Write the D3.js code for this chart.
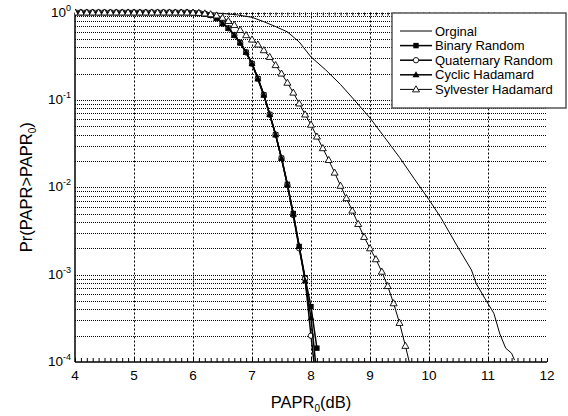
<!DOCTYPE html>
<html>
<head>
<meta charset="utf-8">
<script src="https://cdn.jsdelivr.net/npm/d3@7"></script>
<style>
	body { margin: 0; background: #fff; }
	svg { display: block; font-family: "Liberation Sans", Arial, sans-serif; }
</style>
</head>
<body>
<svg id="chart" width="568" height="416"></svg>
<script>
// PAPR0 grid (dB) shared by the coded curves
var paprSteps = [4.0, 4.1, 4.2, 4.3, 4.4, 4.5, 4.6, 4.7, 4.8, 4.9,
	5.0, 5.1, 5.2, 5.3, 5.4, 5.5, 5.6, 5.7, 5.8, 5.9,
	6.0, 6.1, 6.2, 6.3, 6.4, 6.5, 6.6, 6.7, 6.8, 6.9,
	7.0, 7.1, 7.2, 7.3, 7.4, 7.5, 7.6, 7.7, 7.8, 7.9,
	8.0, 8.1, 8.2, 8.3, 8.4, 8.5, 8.6, 8.7, 8.8, 8.9,
	9.0, 9.1, 9.2, 9.3, 9.4, 9.5, 9.6, 9.7];

var binaryRandom = [1, 1, 1, 1, 1, 1, 1, 1, 1, 1,
	1, 1, 1, 1, 1, 1, 1, 1, 1, 1,
	0.995, 0.985, 0.965, 0.93, 0.86, 0.75, 0.66, 0.55, 0.45, 0.35,
	0.26, 0.175, 0.114, 0.068, 0.040, 0.0215, 0.0108, 0.005, 0.0021, 0.00092,
	0.00043, 0.000144];

var quaternaryRandom = [1, 1, 1, 1, 1, 1, 1, 1, 1, 1,
	1, 1, 1, 1, 1, 1, 1, 1, 1, 1,
	0.995, 0.985, 0.965, 0.93, 0.86, 0.75, 0.66, 0.55, 0.45, 0.35,
	0.26, 0.175, 0.114, 0.068, 0.040, 0.0215, 0.0106, 0.0048, 0.002, 0.0009,
	0.0002, 0.00005];

var cyclicHadamard = [1, 1, 1, 1, 1, 1, 1, 1, 1, 1,
	1, 1, 1, 1, 1, 1, 1, 1, 1, 1,
	0.995, 0.985, 0.965, 0.93, 0.86, 0.75, 0.66, 0.55, 0.45, 0.35,
	0.26, 0.175, 0.114, 0.068, 0.040, 0.0215, 0.0107, 0.0049, 0.0021, 0.00085,
	0.00032, 0.00007];

var sylvesterHadamard = [1, 1, 1, 1, 1, 1, 1, 1, 1, 1,
	1, 1, 1, 1, 1, 1, 1, 1, 1, 1,
	0.995, 0.99, 0.975, 0.955, 0.925, 0.87, 0.80, 0.72, 0.63, 0.55,
	0.49, 0.43, 0.37, 0.31, 0.25, 0.20, 0.157, 0.121, 0.091, 0.068,
	0.052, 0.038, 0.028, 0.0205, 0.0147, 0.0104, 0.0075, 0.0054, 0.0038, 0.0027,
	0.002, 0.0015, 0.00108, 0.00074, 0.00047, 0.00028, 0.000153, 0.00008];

// original (no precoding) curve, its own grid
var origPapr = [4, 5, 5.5, 6, 6.25, 6.5, 6.75, 7, 7.2, 7.4, 7.6, 7.8, 8, 8.25, 8.5, 8.75,
	9, 9.25, 9.5, 9.75, 10, 10.2, 10.35, 10.5, 10.72, 10.8, 10.95, 11.1, 11.2, 11.3, 11.4, 11.45];
var origCcdf = [1, 1, 1, 0.999, 0.995, 0.975, 0.94, 0.88, 0.785, 0.69, 0.6, 0.46, 0.31, 0.22, 0.15, 0.097,
	0.062, 0.037, 0.022, 0.0125, 0.0072, 0.0045, 0.003, 0.002, 0.00113, 0.00079, 0.00053, 0.00036, 0.00021, 0.000144, 0.000126, 0.000105];

var seriesNames = ["Orginal", "Binary Random", "Quaternary Random", "Cyclic Hadamard", "Sylvester Hadamard"];
var xTickLabels = [4, 5, 6, 7, 8, 9, 10, 11, 12];
var yExponents = [0, -1, -2, -3, -4];

var svg = d3.select("#chart");
var plotLeft = 75, plotRight = 547, plotTop = 12.5, plotBottom = 362;

var x = d3.scaleLinear().domain([4, 12]).range([plotLeft, plotRight]);
var y = d3.scaleLog().domain([1e-4, 1]).range([plotBottom, plotTop]);

svg.append("defs").append("clipPath").attr("id", "plotClip")
	.append("rect")
	.attr("x", plotLeft).attr("y", plotTop - 4)
	.attr("width", plotRight - plotLeft + 4).attr("height", plotBottom - plotTop + 4);

// horizontal grid (every log tick)
svg.append("g")
	.selectAll("line")
	.data(y.ticks().filter(d => d > 1.5e-4))
	.enter().append("line")
	.attr("x1", plotLeft).attr("x2", plotRight)
	.attr("y1", d => Math.round(y(d)) + 0.5)
	.attr("y2", d => Math.round(y(d)) + 0.5)
	.attr("stroke", "#000")
	.attr("stroke-width", 1)
	.attr("stroke-dasharray", "1,1");

// vertical grid at integer dB
svg.append("g")
	.selectAll("line")
	.data(xTickLabels.filter(d => d > 4 && d < 12))
	.enter().append("line")
	.attr("x1", d => Math.round(x(d)) + 0.5)
	.attr("x2", d => Math.round(x(d)) + 0.5)
	.attr("y1", plotTop).attr("y2", plotBottom)
	.attr("stroke", "#000")
	.attr("stroke-width", 1)
	.attr("stroke-dasharray", "2,2");

// minor ticks bottom and top (0.1 dB)
var minorTicks = d3.range(40, 121).map(d => d / 10);
svg.append("g")
	.attr("transform", "translate(0," + plotBottom + ")")
	.call(d3.axisBottom(x).tickValues(minorTicks).tickSize(-4).tickFormat(""))
	.call(g => g.select(".domain").remove())
	.selectAll("line").attr("stroke", "#000");
svg.append("g")
	.attr("transform", "translate(0," + plotTop + ")")
	.call(d3.axisTop(x).tickValues(minorTicks).tickSize(-3).tickFormat(""))
	.call(g => g.select(".domain").remove())
	.selectAll("line").attr("stroke", "#000");

// axis lines
svg.append("line")
	.attr("x1", plotLeft).attr("x2", plotRight)
	.attr("y1", plotBottom).attr("y2", plotBottom)
	.attr("stroke", "#000").attr("stroke-width", 1.5);
svg.append("line")
	.attr("x1", plotLeft).attr("x2", plotLeft)
	.attr("y1", plotTop).attr("y2", plotBottom)
	.attr("stroke", "#000").attr("stroke-width", 1.5);

// x tick labels
svg.append("g")
	.selectAll("text")
	.data(xTickLabels)
	.enter().append("text")
	.attr("x", d => x(d))
	.attr("y", plotBottom + 18)
	.attr("text-anchor", "middle")
	.attr("font-size", 13.5)
	.text(d => d);

// y tick labels 10^k
var yLabels = svg.append("g")
	.selectAll("text")
	.data(yExponents)
	.enter().append("text")
	.attr("x", 71)
	.attr("y", d => y(Math.pow(10, d)) + 4)
	.attr("text-anchor", "end")
	.attr("font-size", 13.5);
yLabels.append("tspan").text("10");
yLabels.append("tspan")
	.attr("dy", -6)
	.attr("font-size", 9)
	.text(d => d === 0 ? "0" : "-" + (-d));

// axis titles
var xTitle = svg.append("text")
	.attr("x", (plotLeft + plotRight) / 2)
	.attr("y", 408)
	.attr("text-anchor", "middle")
	.attr("font-size", 16.5);
xTitle.append("tspan").text("PAPR");
xTitle.append("tspan").attr("dy", 4).attr("font-size", 10).text("0");
xTitle.append("tspan").attr("dy", -4).text("(dB)");

var yTitle = svg.append("text")
	.attr("transform", "translate(32," + ((plotTop + plotBottom) / 2) + ") rotate(-90)")
	.attr("text-anchor", "middle")
	.attr("font-size", 16.5);
yTitle.append("tspan").text("Pr(PAPR>PAPR");
yTitle.append("tspan").attr("dy", 4).attr("font-size", 10).text("0");
yTitle.append("tspan").attr("dy", -4).text(")");

// series
var series = [
	{ name: seriesNames[0], xs: origPapr, ys: origCcdf, width: 1, marker: null },
	{ name: seriesNames[1], xs: paprSteps, ys: binaryRandom, width: 1.5, marker: "square" },
	{ name: seriesNames[2], xs: paprSteps, ys: quaternaryRandom, width: 1.5, marker: "circle" },
	{ name: seriesNames[3], xs: paprSteps, ys: cyclicHadamard, width: 1.5, marker: "triFill" },
	{ name: seriesNames[4], xs: paprSteps, ys: sylvesterHadamard, width: 1, marker: "triOpen" }
];

var line = d3.line().x(d => x(d[0])).y(d => y(d[1]));
var plot = svg.append("g").attr("clip-path", "url(#plotClip)");

function drawMarker(g, kind) {
	if (kind === "square") {
		g.append("rect").attr("x", -2.7).attr("y", -2.7).attr("width", 5.4).attr("height", 5.4)
			.attr("fill", "#000");
	} else if (kind === "circle") {
		g.append("circle").attr("r", 2.7).attr("fill", "#fff")
			.attr("stroke", "#000").attr("stroke-width", 0.9);
	} else if (kind === "triFill") {
		g.append("path").attr("d", "M0,-3.6L3.5,2.5L-3.5,2.5Z").attr("fill", "#000");
	} else if (kind === "triOpen") {
		g.append("path").attr("d", "M0,-3.6L3.5,2.5L-3.5,2.5Z").attr("fill", "#fff")
			.attr("stroke", "#000").attr("stroke-width", 0.9);
	}
}

series.forEach(function(s) {
	var pts = s.xs.slice(0, s.ys.length).map((v, i) => [v, s.ys[i]]);
	plot.append("path")
		.datum(pts)
		.attr("fill", "none")
		.attr("stroke", "#000")
		.attr("stroke-width", s.width)
		.attr("d", line);
	if (s.marker) {
		plot.append("g")
			.selectAll("g")
			.data(pts.filter(p => p[1] >= 1e-4))
			.enter().append("g")
			.attr("transform", p => "translate(" + x(p[0]) + "," + y(p[1]) + ")")
			.each(function() { drawMarker(d3.select(this), s.marker); });
	}
});

// legend
var legend = svg.append("g");
legend.append("rect")
	.attr("x", 392).attr("y", 13)
	.attr("width", 174).attr("height", 95)
	.attr("fill", "#fff")
	.attr("stroke", "#555")
	.attr("stroke-width", 1.5);
var rows = legend.selectAll("g.row")
	.data(series)
	.enter().append("g")
	.attr("class", "row")
	.attr("transform", (d, i) => "translate(0," + (31 + i * 14.6) + ")");
rows.append("line")
	.attr("x1", 400).attr("x2", 432)
	.attr("stroke", "#000")
	.attr("stroke-width", d => d.width);
rows.append("g")
	.attr("transform", "translate(416,0)")
	.each(function(d) { drawMarker(d3.select(this), d.marker); });
rows.append("text")
	.attr("x", 435)
	.attr("y", 4.5)
	.attr("font-size", 13)
	.text(d => d.name);
</script>
</body>
</html>
